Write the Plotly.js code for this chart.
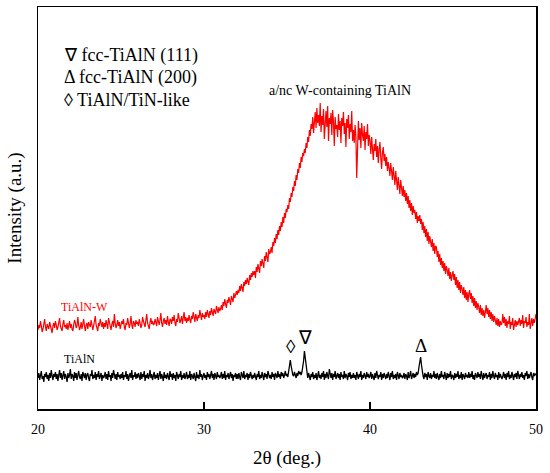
<!DOCTYPE html>
<html>
<head>
<meta charset="utf-8">
<script src="https://cdn.plot.ly/plotly-3.0.1.min.js"></script>
<style>
html,body{margin:0;padding:0;background:#fff;}
#chart{width:550px;height:473px;}
#chart svg text{font-family:'Liberation Serif',serif !important;}
#prime{position:absolute;left:-9999px;top:0;font-family:'Liberation Serif';font-size:18px;}
</style>
</head>
<body>
<div id="prime">fcc-TiAlN (111) 2&#952; 20 30 40 50 Intensity</div>
<div id="chart"></div>
<script>
// 2-theta sampling grid (deg.)
const thetaStart = 20;
const thetaStep = 0.05;

// TiAlN-W (red) intensity, a.u., 20 points per degree (20.00 ... 49.95), then 50.00
const tialnW = [
  79, 84, 81, 88, 83, 77, 80, 86, 90, 82,  78, 85, 83, 80, 87, 84, 79, 76, 83, 86,
  81, 88, 84, 79, 82, 87, 91, 83, 80, 78,  85, 89, 82, 84, 80, 86, 79, 83, 88, 81,
  85, 80, 78, 84, 89, 86, 81, 83, 92, 84,  79, 82, 87, 80, 85, 90, 83, 78, 84, 86,
  80, 87, 84, 82, 89, 85, 79, 83, 88, 93,  84, 81, 78, 86, 83, 90, 85, 82, 87, 80,
  86, 82, 89, 84, 80, 91, 87, 83, 79, 85,  88, 82, 95, 86, 81, 84, 89, 83, 87, 80,
  83, 88, 85, 90, 82, 79, 86, 84, 91, 87,  81, 85, 93, 84, 80, 88, 86, 82, 89, 85,
  87, 83, 90, 86, 81, 84, 92, 88, 85, 82,  89, 95, 86, 83, 80, 87, 91, 85, 88, 84,
  85, 90, 87, 83, 92, 88, 84, 89, 96, 86,  82, 88, 91, 85, 89, 84, 93, 87, 83, 90,
  89, 85, 92, 88, 94, 86, 83, 90, 87, 96,  91, 86, 89, 93, 85, 90, 97, 88, 92, 86,
  91, 88, 94, 89, 86, 93, 90, 97, 92, 87,  95, 90, 88, 94, 91, 99, 93, 89, 96, 92,
  94, 90, 97, 92, 99, 95, 91, 98, 94, 101,  96, 93, 100, 97, 95, 103, 99, 96, 102, 98,
  100, 104, 99, 107, 103, 110, 105, 101, 109, 106,  112, 108, 104, 113, 110, 107, 116, 111, 114, 118,
  114, 119, 116, 123, 118, 125, 121, 117, 127, 123,  129, 125, 131, 127, 124, 134, 129, 136, 132, 138,
  134, 138, 131, 142, 137, 145, 140, 136, 148, 143,  150, 146, 141, 153, 148, 157, 151, 147, 160, 155,
  157, 162, 156, 167, 163, 171, 166, 175, 170, 179,  174, 183, 178, 187, 182, 192, 186, 196, 191, 200,
  197, 204, 200, 211, 207, 216, 212, 222, 218, 228,  223, 234, 229, 240, 236, 246, 241, 252, 247, 256,
  253, 260, 256, 266, 261, 272, 267, 279, 273, 285,  280, 292, 276, 288, 297, 281, 301, 286, 294, 283,
  306, 277, 293, 284, 300, 270, 289, 298, 282, 303,  268, 291, 285, 296, 274, 299, 287, 263, 292, 280,
  284, 272, 295, 279, 288, 266, 291, 283, 297, 275,  286, 262, 290, 281, 294, 270, 285, 277, 298, 268,
  279, 266, 284, 273, 231, 276, 288, 269, 281, 261,  286, 274, 268, 283, 259, 277, 270, 285, 263, 274,
  268, 255, 272, 260, 249, 265, 258, 270, 252, 263,  246, 259, 267, 251, 240, 257, 262, 248, 255, 243,
  252, 238, 247, 241, 233, 246, 236, 229, 242, 233,  224, 238, 228, 219, 232, 223, 215, 229, 220, 213,
  223, 212, 219, 208, 216, 205, 213, 201, 209, 198,  206, 194, 203, 196, 199, 190, 197, 186, 193, 188,
  194, 185, 190, 179, 187, 176, 183, 172, 180, 168,  177, 165, 173, 168, 162, 170, 158, 166, 155, 163,
  162, 152, 158, 147, 155, 144, 151, 141, 148, 138,  146, 135, 143, 139, 133, 141, 130, 137, 128, 134,
  138, 129, 135, 124, 132, 121, 129, 119, 127, 116,  124, 120, 114, 122, 111, 119, 109, 117, 107, 115,
  119, 110, 116, 106, 113, 103, 111, 101, 108, 99,  106, 102, 96, 104, 94, 101, 93, 99, 91, 97,
  104, 95, 101, 92, 99, 90, 97, 88, 95, 87,  93, 89, 84, 91, 83, 90, 82, 88, 84, 86,
  95, 86, 92, 83, 90, 81, 88, 85, 93, 80,  87, 84, 91, 79, 86, 89, 82, 88, 84, 90,
  91, 83, 89, 85, 94, 81, 88, 86, 92, 82,  87, 84, 95, 80, 88, 91, 83, 90, 86, 93,
  95
];

// TiAlN (black) intensity, a.u.
const tialn = [
  31, 36, 29, 34, 38, 30, 33, 27, 35, 32,  37, 30, 34, 28, 36, 31, 39, 33, 29, 35,
  32, 37, 30, 35, 28, 34, 39, 31, 36, 29,  33, 38, 30, 35, 32, 27, 36, 31, 34, 40,
  30, 35, 33, 28, 37, 31, 36, 29, 34, 38,  32, 30, 35, 28, 37, 33, 31, 36, 29, 34,
  36, 31, 28, 35, 33, 39, 30, 34, 31, 37,  29, 35, 32, 38, 30, 33, 36, 28, 34, 31,
  33, 37, 30, 35, 29, 38, 32, 34, 28, 36,  31, 39, 33, 30, 35, 29, 37, 32, 34, 30,
  35, 31, 37, 29, 34, 32, 38, 30, 35, 28,  33, 36, 31, 39, 29, 34, 32, 37, 30, 35,
  31, 36, 33, 29, 37, 30, 35, 32, 38, 28,  34, 31, 36, 30, 33, 39, 31, 35, 29, 34,
  37, 30, 34, 31, 36, 29, 33, 38, 30, 35,  32, 28, 37, 31, 34, 30, 36, 33, 29, 38,
  32, 35, 29, 36, 31, 34, 28, 37, 33, 30,  35, 32, 38, 29, 34, 31, 36, 30, 33, 37,
  30, 34, 31, 38, 29, 35, 33, 30, 36, 32,  28, 37, 31, 34, 30, 39, 32, 35, 29, 33,
  36, 31, 34, 29, 37, 32, 35, 30, 33, 38,  31, 35, 29, 36, 33, 30, 37, 32, 34, 31,
  33, 37, 30, 35, 31, 38, 29, 34, 32, 36,  30, 33, 37, 31, 35, 28, 34, 32, 36, 30,
  35, 30, 36, 32, 29, 37, 33, 31, 38, 30,  34, 32, 36, 29, 35, 31, 37, 33, 30, 34,
  31, 36, 33, 29, 35, 32, 38, 30, 34, 31,  37, 33, 29, 36, 32, 35, 30, 38, 33, 31,
  34, 30, 37, 32, 35, 29, 36, 33, 31, 38,  32, 35, 30, 37, 33, 36, 31, 34, 38, 33,
  35, 32, 38, 44, 49, 43, 37, 34, 33, 37,  34, 31, 36, 33, 38, 35, 37, 34, 37, 41,
  48, 58, 50, 40, 35, 31, 36, 33, 29, 35,  32, 37, 30, 34, 31, 36, 29, 33, 38, 31,
  34, 30, 36, 32, 38, 29, 35, 31, 37, 33,  30, 40, 34, 31, 36, 29, 35, 32, 38, 30,
  33, 36, 31, 35, 29, 37, 32, 34, 30, 38,  31, 35, 33, 29, 36, 32, 37, 30, 34, 31,
  36, 31, 34, 29, 37, 33, 30, 35, 32, 38,  29, 34, 31, 36, 33, 30, 37, 32, 35, 31,
  33, 37, 30, 35, 32, 29, 36, 31, 38, 33,  30, 34, 32, 37, 29, 35, 31, 36, 33, 30,
  35, 31, 37, 33, 29, 36, 32, 38, 30, 34,  31, 35, 29, 37, 33, 30, 36, 32, 34, 31,
  32, 36, 30, 35, 33, 29, 37, 31, 34, 38,  30, 33, 36, 31, 35, 32, 37, 34, 36, 42,
  47, 52, 44, 37, 33, 30, 36, 32, 35, 29,  37, 33, 31, 36, 30, 34, 32, 38, 31, 35,
  30, 36, 33, 29, 35, 31, 38, 32, 34, 30,  37, 33, 29, 36, 31, 35, 32, 38, 30, 34,
  33, 29, 36, 31, 35, 32, 38, 30, 34, 31,  37, 29, 35, 33, 30, 36, 32, 34, 31, 37,
  31, 35, 32, 38, 30, 34, 29, 36, 33, 31,  37, 32, 35, 30, 38, 33, 29, 36, 31, 34,
  36, 30, 34, 32, 37, 29, 35, 31, 38, 33,  30, 36, 32, 34, 29, 37, 31, 35, 33, 30,
  33, 37, 31, 35, 29, 36, 32, 38, 30, 34,  31, 37, 33, 29, 35, 32, 36, 30, 38, 32,
  30, 35, 32, 37, 31, 34, 29, 36, 33, 38,  30, 35, 31, 34, 37, 32, 29, 36, 33, 35,
  34
];

// Peak markers on the TiAlN pattern
const peakTheta = [35.22, 36.08, 43.05];
const peakSymbols = ['\u25CA', '\u2207', '\u0394'];
const peakLabelY = [63, 72, 64];

// Legend text for the peak symbols
const legendLines = ['\u2207 fcc-TiAlN (111)', '\u0394 fcc-TiAlN (200)', '\u25CA TiAlN/TiN-like'];
const legendY = [354, 332, 309];

const xTicks = [20, 30, 40, 50];

const theta = tialnW.map((_, i) => +(thetaStart + i * thetaStep).toFixed(2));

const SERIF = 'Liberation Serif';
function font(size, color) {
  return { family: SERIF, size: size, color: color || '#000000' };
}

const traces = [
  { x: theta, y: tialnW, type: 'scatter', mode: 'lines', name: 'TiAlN-W',
    line: { color: '#ff0000', width: 1.2 }, showlegend: false },
  { x: theta, y: tialn, type: 'scatter', mode: 'lines', name: 'TiAlN',
    line: { color: '#000000', width: 1.3 }, showlegend: false }
];

const annotations = [];
peakTheta.forEach((t, i) => {
  annotations.push({ x: t, y: peakLabelY[i], xref: 'x', yref: 'y', text: peakSymbols[i],
    showarrow: false, font: font(19) });
});
legendLines.forEach((s, i) => {
  annotations.push({ x: 21.45, y: legendY[i], xref: 'x', yref: 'y', text: s, xanchor: 'left',
    showarrow: false, font: font(18) });
});
annotations.push({ x: 38.19, y: 319, xref: 'x', yref: 'y', text: 'a/nc W-containing TiAlN',
  showarrow: false, font: font(14) });
annotations.push({ x: 22.8, y: 102, xref: 'x', yref: 'y', text: 'TiAlN-W',
  showarrow: false, font: font(12, '#ff0000') });
annotations.push({ x: 22.5, y: 50, xref: 'x', yref: 'y', text: 'TiAlN',
  showarrow: false, font: font(12) });

const layout = {
  width: 550, height: 473,
  margin: { l: 38, r: 14, t: 7, b: 64 },
  showlegend: false,
  paper_bgcolor: '#ffffff', plot_bgcolor: '#ffffff',
  font: font(14),
  xaxis: {
    range: [20, 50], tickvals: xTicks, ticktext: xTicks.map(String),
    ticks: 'inside', ticklen: 7, tickwidth: 1.2, tickcolor: '#000',
    ticklabelstandoff: 7,
    showline: true, linecolor: '#000', linewidth: 1.5, mirror: true,
    showgrid: false, zeroline: false,
    tickfont: font(14),
    title: { text: '2\u03B8 (deg.)', font: font(19), standoff: 14 }
  },
  yaxis: {
    range: [0, 402], showticklabels: false, ticks: '',
    showline: true, linecolor: '#000', linewidth: 1.5, mirror: true,
    showgrid: false, zeroline: false,
    title: { text: 'Intensity (a.u.)', font: font(19), standoff: 10 }
  },
  annotations: annotations
};

function draw() {
  Plotly.newPlot('chart', traces, layout, { displayModeBar: false, staticPlot: true });
}
if (document.fonts && document.fonts.ready) {
  document.fonts.ready.then(draw);
} else {
  draw();
}
</script>
</body>
</html>
